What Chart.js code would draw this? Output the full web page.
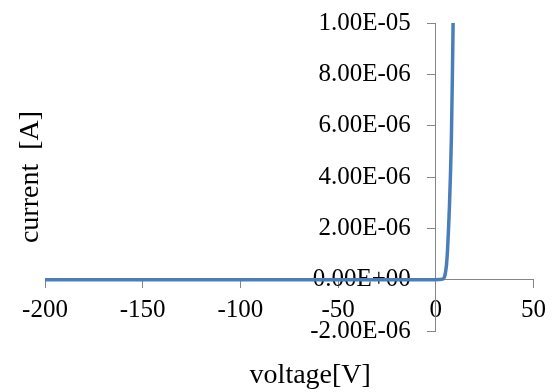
<!DOCTYPE html>
<html lang="en">

<head>
    <meta charset="UTF-8">
    <title>Diode I-V curve</title>
    <script src="https://cdn.jsdelivr.net/npm/chart.js"></script>
    <style>
        body {
            margin: 0;
            background: white;
        }

        .wrap {
            width: 554px;
            height: 392px;
        }
    </style>
</head>

<body>
    <div class="wrap">
        <canvas id="ivChart"></canvas>
    </div>

    <script>
        // voltage [V] and current [A]
        const voltage = [-200, -100, 0, 3.5, 4.5, 5.0, 5.5, 6.0, 6.5, 7.0, 7.5, 8.0, 8.5, 9.0];
        const current = [0, 0, 0, 0.02e-6, 0.12e-6, 0.3e-6, 0.6e-6, 1.15e-6, 1.95e-6, 2.9e-6, 4.1e-6, 5.6e-6, 8.0e-6, 10.8e-6];

        const xTitle = 'voltage[V]';
        const yTitle = 'current  [A]';

        const serif = "'Liberation Serif', 'Times New Roman', serif";
        const axisGray = '#868686';

        // Excel style 1.00E-05
        function sci(v) {
            if (Math.abs(v) < 1e-15) v = 0;
            const parts = v.toExponential(2).split('e');
            const sign = parts[1][0] === '-' ? '-' : '+';
            const exp = parts[1].replace(/[+-]/, '').padStart(2, '0');
            return parts[0] + 'E' + sign + exp;
        }

        const points = voltage.map((v, i) => ({ x: v, y: current[i] }));

        const ctx = document.getElementById('ivChart').getContext('2d');
        new Chart(ctx, {
            type: 'scatter',
            data: {
                datasets: [{
                    data: points,
                    showLine: true,
                    borderColor: '#4a7ebb',
                    borderWidth: 3.5,
                    pointRadius: 0,
                    cubicInterpolationMode: 'monotone'
                }]
            },
            options: {
                responsive: true,
                maintainAspectRatio: false,
                animation: false,
                layout: {
                    padding: { top: 23, right: 20, bottom: 0, left: 0 }
                },
                plugins: {
                    legend: { display: false },
                    tooltip: { enabled: false },
                    title: {
                        display: true,
                        text: '      ' + xTitle,
                        position: 'bottom',
                        fullSize: false,
                        color: '#000',
                        font: { family: serif, size: 28, weight: 'normal', lineHeight: 1.0 },
                        padding: { top: 31, bottom: 2 }
                    },
                    subtitle: {
                        display: true,
                        text: yTitle,
                        position: 'left',
                        fullSize: false,
                        color: '#000',
                        font: { family: serif, size: 28, weight: 'normal', lineHeight: 1.0 },
                        padding: { top: 17, bottom: 0 }
                    }
                },
                scales: {
                    x: {
                        type: 'linear',
                        position: { y: 0 },
                        min: -200,
                        max: 50,
                        border: { color: axisGray },
                        grid: { drawOnChartArea: false, tickLength: 8, color: axisGray },
                        ticks: {
                            stepSize: 50,
                            autoSkip: false,
                            maxRotation: 0,
                            padding: 8,
                            color: '#000',
                            font: { family: serif, size: 25 }
                        }
                    },
                    y: {
                        type: 'linear',
                        position: { x: 0 },
                        min: -2e-6,
                        max: 1e-5,
                        z: 1,
                        border: { color: axisGray },
                        grid: { drawOnChartArea: false, tickLength: 8, color: axisGray },
                        ticks: {
                            stepSize: 2e-6,
                            color: '#000',
                            font: { family: serif, size: 25 },
                            // labels sit right on the axis here, so trailing spaces keep the gap
                            callback: (v) => sci(v) + '    '
                        }
                    }
                }
            }
        });
    </script>
</body>

</html>
